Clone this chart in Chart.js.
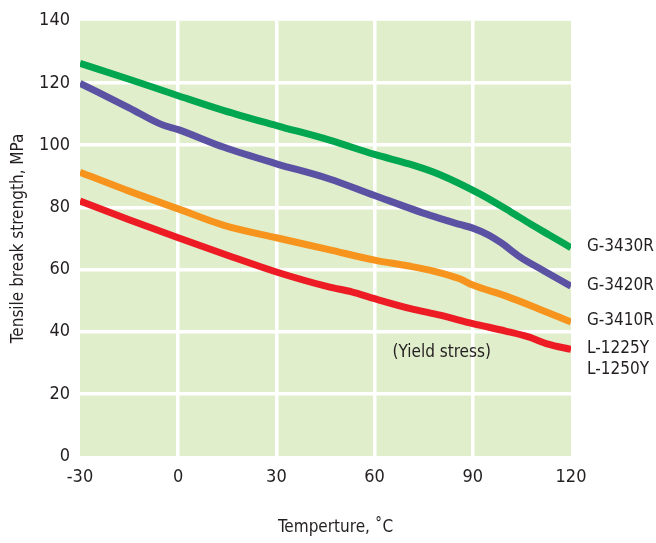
<!DOCTYPE html>
<html><head><meta charset="utf-8">
<script src="https://cdn.jsdelivr.net/npm/chart.js@4.4.1/dist/chart.umd.min.js"></script>
<style>html,body{margin:0;padding:0;background:#fff}#wrap{width:656px;height:543px}</style>
</head><body><div id="wrap"><canvas id="c" width="656" height="543"></canvas></div>
<script>
const FONT = "'Liberation Sans Narrow','DejaVu Sans Condensed',sans-serif";
const xTicks = [-30, 0, 30, 60, 90, 120];
const yTicks = [0, 20, 40, 60, 80, 100, 120, 140];
const xTitle = 'Temperture, ˚C';
const yTitle = 'Tensile break strength, MPa';

const tG3430 = [-30, -15, 0, 14, 30, 46, 60, 72, 80, 92, 101.5, 107.5, 113.5, 120];
const vG3430 = [126.3, 121.2, 115.9, 111.1, 106.3, 101.7, 97, 93.5, 90.5, 84.4, 78.6, 74.7, 71, 67];

const tG3420 = [-30, -15, -5, 0, 14, 30, 46, 60, 77, 86, 90, 95, 98.5, 104.5, 111.5, 120];
const vG3420 = [119.9, 112, 106.6, 105, 99.3, 94, 89.2, 83.8, 77.4, 74.5, 73.3, 71, 68.7, 64, 59.7, 54.6];

const tG3410 = [-30, -15, 0, 14, 30, 46, 60, 70, 78, 86, 90, 100, 110, 120];
const vG3410 = [91.3, 85.2, 79.5, 74.2, 70.2, 66.4, 63, 61.2, 59.5, 57, 55, 51.5, 47.4, 43.1];

const tL12 = [-30, -15, 0, 15, 30, 46, 53, 60, 71, 80, 90, 100, 107, 113, 120];
const vL12 = [82, 76, 70.2, 64.6, 59.2, 54.4, 52.8, 50.6, 47.4, 45.3, 42.6, 40.2, 38.3, 36, 34.3];

const seriesNames = ['G-3430R', 'G-3420R', 'G-3410R', 'L-1225Y'];
const extraLabel = 'L-1250Y';
const noteText = '(Yield stress)';
const notePos = {x: 80.5, y: 33.4};
const colors = ['#00a650', '#5b52a3', '#f7941d', '#ed1c24'];

const pts = (t, v) => t.map((x, i) => ({x, y: v[i]}));
const allSeries = [[tG3430, vG3430], [tG3420, vG3420], [tG3410, vG3410], [tL12, vL12]];

const bgPlugin = {
  id: 'bg',
  beforeDraw(chart) {
    const {ctx, chartArea: a} = chart;
    ctx.save(); ctx.fillStyle = '#e0eecc';
    ctx.fillRect(a.left, a.top, a.right - a.left, a.bottom - a.top);
    ctx.restore();
  }
};
const labelPlugin = {
  id: 'labels',
  afterDatasetsDraw(chart) {
    const {ctx, scales: {x, y}, chartArea: a} = chart;
    ctx.save();
    ctx.font = '17px ' + FONT; ctx.fillStyle = '#231f20';
    ctx.textAlign = 'left'; ctx.textBaseline = 'middle';
    allSeries.forEach((s, i) => {
      const v = s[1][s[1].length - 1];
      ctx.fillText(seriesNames[i], a.right + 16, y.getPixelForValue(v) - 1);
    });
    const lv = vL12[vL12.length - 1];
    ctx.fillText(extraLabel, a.right + 16, y.getPixelForValue(lv) + 20);
    ctx.textAlign = 'center';
    ctx.fillText(noteText, x.getPixelForValue(notePos.x), y.getPixelForValue(notePos.y));
    ctx.fillText(xTitle, (a.left + a.right) / 2 + 10, x.bottom - 15);
    ctx.restore();
  }
};

const edgeHide = (min, max) => (c) => (c.tick && (c.tick.value === min || c.tick.value === max)) ? 'rgba(0,0,0,0)' : '#ffffff';

new Chart(document.getElementById('c'), {
  type: 'line',
  data: {
    datasets: allSeries.map((s, i) => ({
      label: seriesNames[i],
      data: pts(s[0], s[1]),
      borderColor: colors[i],
      borderWidth: 7,
      pointRadius: 0,
      cubicInterpolationMode: 'monotone',
      borderCapStyle: 'butt',
      fill: false
    }))
  },
  options: {
    responsive: false,
    animation: false,
    layout: {padding: {left: 0, top: 20, right: 85, bottom: 0}},
    plugins: {legend: {display: false}, tooltip: {enabled: false}},
    scales: {
      x: {
        type: 'linear', min: -30, max: 120,
        afterBuildTicks: s => { s.ticks = xTicks.map(v => ({value: v})); },
        afterFit: s => { s.height = 87; },
        grid: {color: edgeHide(-30, 120), lineWidth: 3.5, drawTicks: false},
        border: {display: false},
        ticks: {padding: 11, color: '#231f20', font: {family: FONT, size: 18}, maxRotation: 0},
        title: {display: false}
      },
      y: {
        type: 'linear', min: 0, max: 140,
        afterBuildTicks: s => { s.ticks = yTicks.map(v => ({value: v})); },
        afterFit: s => { s.width = 80; },
        grid: {color: edgeHide(0, 140), lineWidth: 3.5, drawTicks: false},
        border: {display: false},
        ticks: {padding: 10, color: '#231f20', font: {family: FONT, size: 18}},
        title: {display: true, text: yTitle, color: '#231f20', font: {family: FONT, size: 17}, padding: {top: 8, bottom: 4}}
      }
    }
  },
  plugins: [bgPlugin, labelPlugin]
});
</script></body></html>
